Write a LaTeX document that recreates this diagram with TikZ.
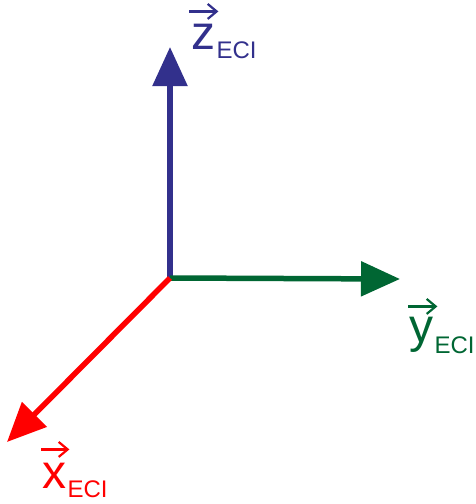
\documentclass[tikz,border=0pt]{standalone}
\usepackage{fontspec}
\setmainfont{Liberation Sans}
\usetikzlibrary{arrows.meta}
\definecolor{AxisBlue}{RGB}{50,48,140}
\definecolor{AxisGreen}{RGB}{0,102,51}
\definecolor{AxisRed}{RGB}{255,0,0}
\tikzset{
	>={Triangle[length=39pt,width=34pt]},
	axisline/.style={line width=5.5pt, ->},
	letter/.style={inner sep=0pt, anchor=base west, font=\fontsize{48}{48}\selectfont},
	subscr/.style={inner sep=0pt, anchor=base west, font=\fontsize{24}{24}\selectfont},
	vecarrow/.style={line width=2.2pt, -{Straight Barb[length=9pt,width=15pt,line width=2.2pt]}},
}

\begin{document}
\begin{tikzpicture}[x=1pt, y=-1pt]
	\useasboundingbox (0,0) rectangle (475,504);
	
	% Origin and axis tips
	\coordinate (O) at (170,278);
	\coordinate (ztip) at (170,47);
	\coordinate (ytip) at (400,279);
	\coordinate (xtip) at (7,442);
	
	% Axes
	\draw[axisline, AxisBlue] (O) -- (ztip);
	\draw[axisline, AxisGreen] (O) -- (ytip);
	\draw[axisline, AxisRed] (O) -- (xtip);
	
	% Label of z axis
	\node[letter, text=AxisBlue] (zlet) at (191,49) {z};
	\node[subscr, text=AxisBlue] (zsub) at ([xshift=1pt,yshift=-9pt]zlet.base east) {ECI};
	\draw[vecarrow, AxisBlue] ([xshift=-2pt,yshift=12pt]zlet.north west) -- ([xshift=3pt,yshift=12pt]zlet.north east);
	
	% Label of y axis
	\node[letter, text=AxisGreen] (ylet) at (409,342) {y};
	\node[subscr, text=AxisGreen] (ysub) at ([xshift=1pt,yshift=-11pt]ylet.base east) {ECI};
	\draw[vecarrow, AxisGreen] ([xshift=-1pt,yshift=10pt]ylet.north west) -- ([xshift=4pt,yshift=10pt]ylet.north east);
	
	% Label of x axis
	\node[letter, text=AxisRed] (xlet) at (42,488) {x};
	\node[subscr, text=AxisRed] (xsub) at ([xshift=1pt,yshift=-9pt]xlet.base east) {ECI};
	\draw[vecarrow, AxisRed] ([xshift=-1pt,yshift=13pt]xlet.north west) -- ([xshift=3pt,yshift=13pt]xlet.north east);
\end{tikzpicture}
\end{document}
